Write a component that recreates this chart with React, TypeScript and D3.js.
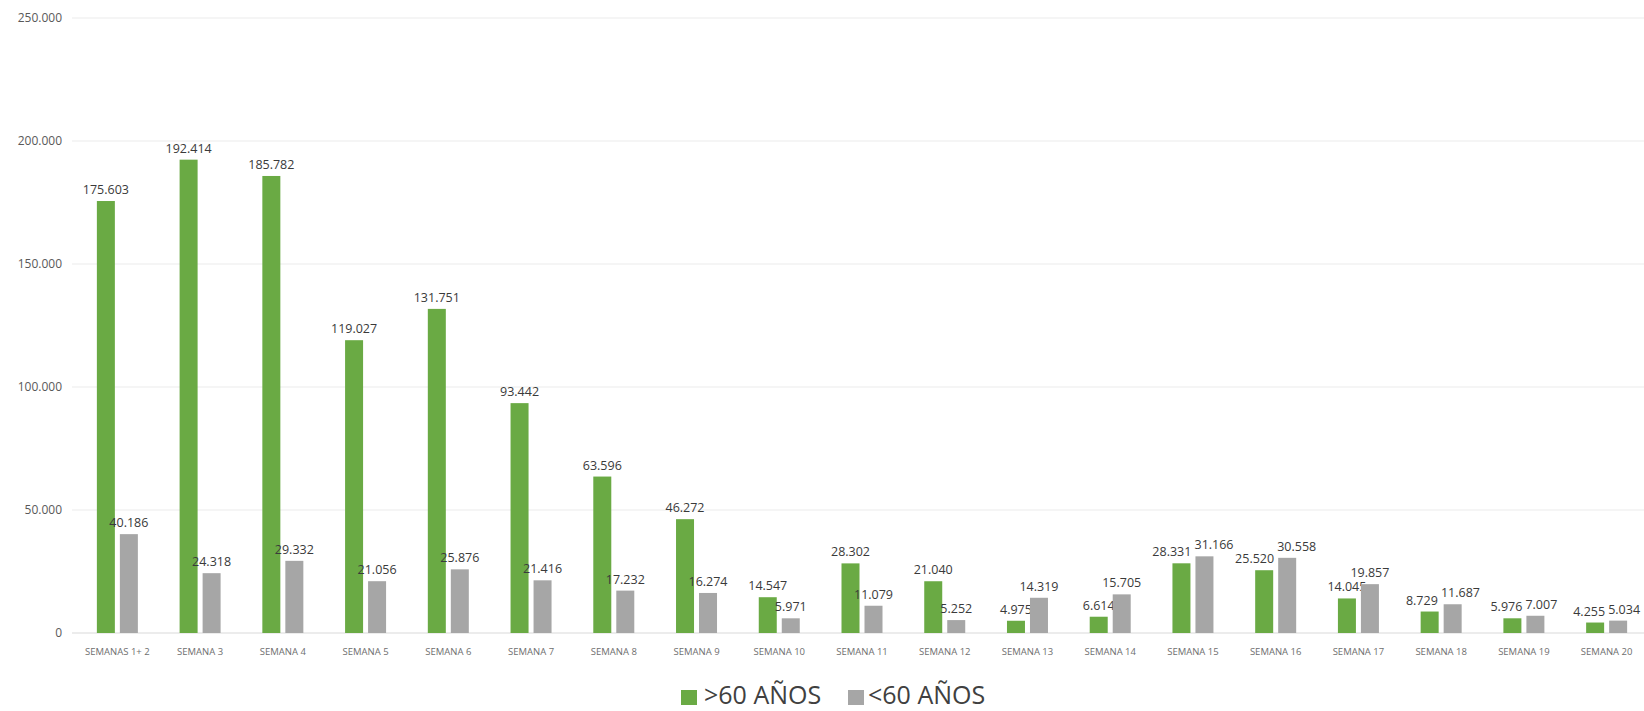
import React from "react";
import * as d3 from "d3";

const categories = ["SEMANAS 1+ 2", "SEMANA 3", "SEMANA 4", "SEMANA 5", "SEMANA 6", "SEMANA 7", "SEMANA 8", "SEMANA 9", "SEMANA 10", "SEMANA 11", "SEMANA 12", "SEMANA 13", "SEMANA 14", "SEMANA 15", "SEMANA 16", "SEMANA 17", "SEMANA 18", "SEMANA 19", "SEMANA 20"];
const over60 = [175603, 192414, 185782, 119027, 131751, 93442, 63596, 46272, 14547, 28302, 21040, 4975, 6614, 28331, 25520, 14045, 8729, 5976, 4255];
const under60 = [40186, 24318, 29332, 21056, 25876, 21416, 17232, 16274, 5971, 11079, 5252, 14319, 15705, 31166, 30558, 19857, 11687, 7007, 5034];
const seriesNames = [">60 AÑOS", "<60 AÑOS"];
const yTicks = [0, 50000, 100000, 150000, 200000, 250000];

const W = 1644;
const H = 711;
const GREEN = "#6aaa44";
const GRAY = "#a6a6a6";
const FONT = "'Open Sans', sans-serif";

const locale = d3.formatLocale({ decimal: ",", thousands: ".", grouping: [3], currency: ["", "€"] });
const fmt = locale.format(",d");

const LABEL_FS = 12.5;
function textW(s: string) {
  let w = 0;
  for (const ch of s) w += ch === "." ? 0.27 : 0.572;
  return w * LABEL_FS;
}

export default function App() {
  const x = d3.scaleBand<string>().domain(categories).range([76, 1648]).paddingInner(0).paddingOuter(0);
  const y = d3.scaleLinear().domain([0, 250000]).range([633, 18]);
  const barW = 18;
  const gap = 5;
  const series = [over60, under60];
  const colors = [GREEN, GRAY];

  return (
    <svg width={W} height={H} style={{ position: "absolute", left: 0, top: 0, background: "#fff" }} fontFamily={FONT}>
      <rect x={0} y={0} width={W} height={H} fill="#fff" />
      {yTicks.map((t) => (
        <g key={t}>
          <line x1={72} x2={1644} y1={y(t)} y2={y(t)} stroke={t === 0 ? "#d9d9d9" : "#ececec"} strokeWidth={1.2} />
          <text x={62} y={y(t)} dy="0.35em" textAnchor="end" fontSize={12} fill="#595959">{fmt(t)}</text>
        </g>
      ))}
      {categories.map((c, i) => {
        const cx = (x(c) as number) + x.bandwidth() / 2;
        const bxs = series.map((_, k) => cx - gap / 2 - barW + k * (barW + gap));
        const labels = series.map((s, k) => ({
          text: fmt(s[i]),
          x: bxs[k] + barW / 2,
          y: y(s[i]) - 7,
        }));
        const a = labels[0], b = labels[1];
        const wa = textW(a.text), wb = textW(b.text);
        const overlap = (a.x + wa / 2 + 3) - (b.x - wb / 2);
        if (overlap > 0 && Math.abs(a.y - b.y) < 14) {
          a.x -= overlap / 2;
          b.x += overlap / 2;
        }
        return (
          <g key={c}>
            {series.map((s, k) => {
              const v = s[i];
              return (
                <g key={k}>
                  <rect x={bxs[k]} y={y(v)} width={barW} height={y(0) - y(v)} fill={colors[k]} />
                  <text x={labels[k].x} y={labels[k].y} textAnchor="middle" fontSize={LABEL_FS} fill="#3a3a3a">{labels[k].text}</text>
                </g>
              );
            })}
            <text x={cx} y={655} textAnchor="middle" fontSize={9.5} fill="#6e6e6e">{c}</text>
          </g>
        );
      })}
      <g>
        <rect x={681} y={690} width={16} height={15} fill={GREEN} />
        <text x={704} y={704} fontSize={25} fill="#404040">{seriesNames[0]}</text>
        <rect x={848} y={690} width={16} height={15} fill={GRAY} />
        <text x={868} y={704} fontSize={25} fill="#404040">{seriesNames[1]}</text>
      </g>
    </svg>
  );
}
